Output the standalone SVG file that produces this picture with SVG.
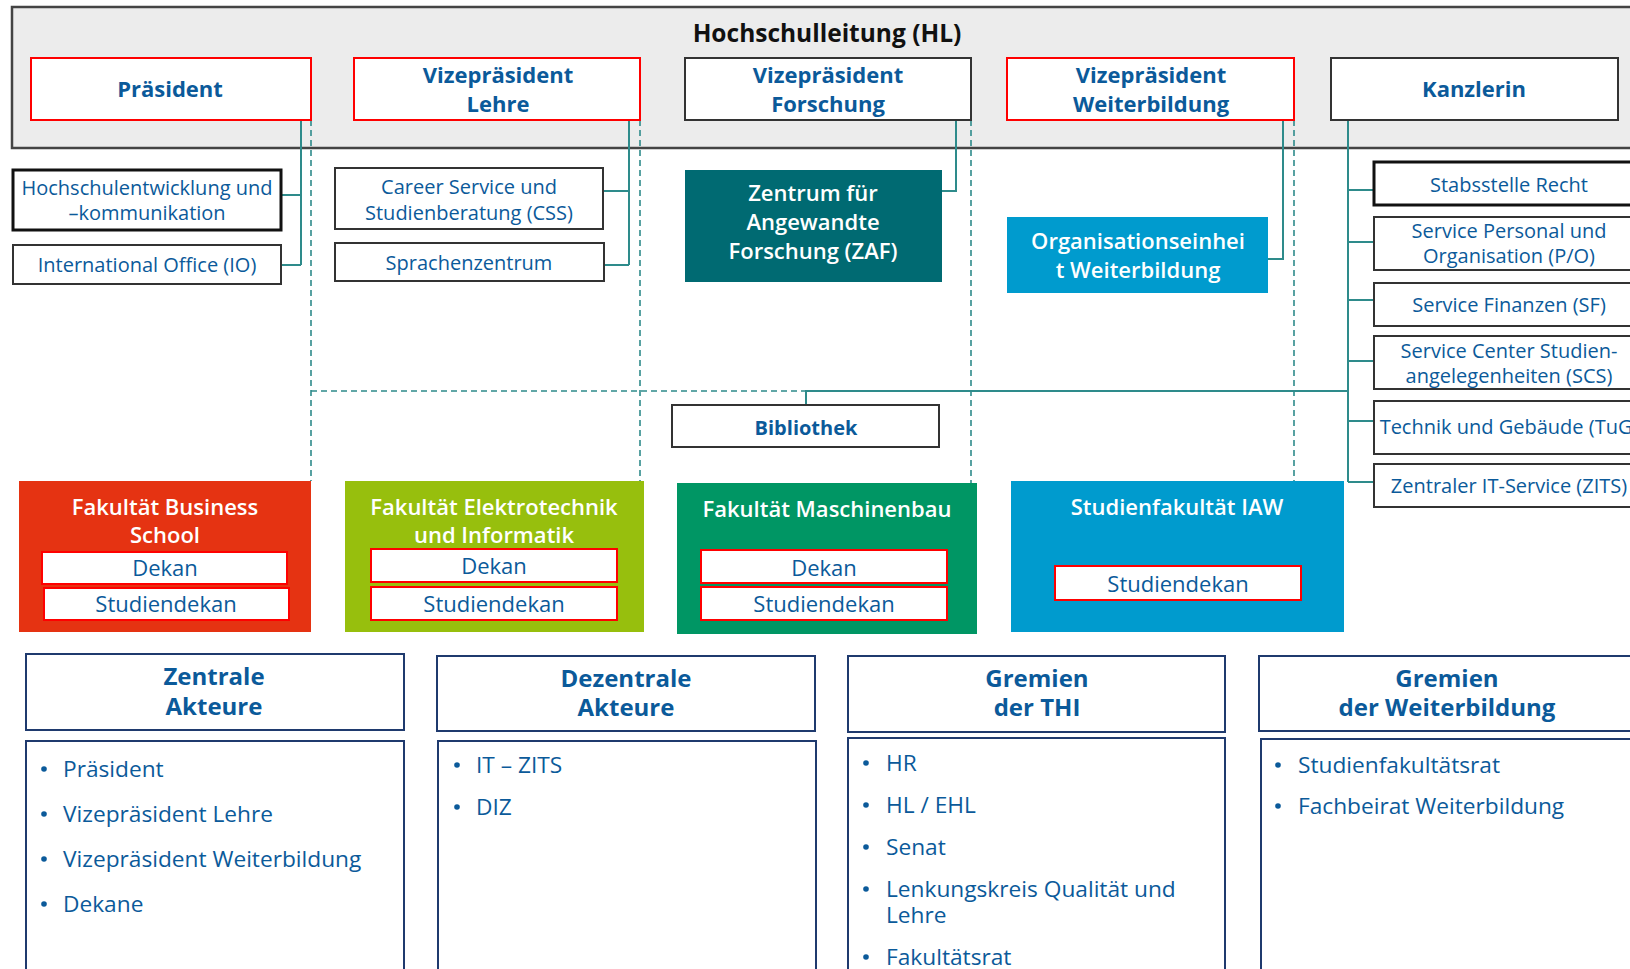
<svg xmlns="http://www.w3.org/2000/svg" width="1630" height="969" viewBox="0 0 1630 969">
<style>
text{font-family:"Open Sans","Noto Sans","DejaVu Sans",sans-serif}
.box{fill:#fff;stroke:#333;stroke-width:2}
.boxk{fill:#fff;stroke:#111;stroke-width:3}
.red{fill:#fff;stroke:#ff0000;stroke-width:2}
.nav{fill:#fff;stroke:#1f3a6e;stroke-width:2}
.hd{font-weight:bold;font-size:22px;fill:#0b5a9a;text-anchor:middle}
.sub{font-size:20px;fill:#0b5a9a;text-anchor:middle}
.bib{font-weight:bold;font-size:20px;fill:#0b5a9a;text-anchor:middle}
.wt{fill:#fff;font-size:22px;text-anchor:middle;font-weight:600}
.dk{font-size:22px;fill:#0b5a9a;text-anchor:middle}
.h2{font-weight:bold;font-size:24px;fill:#0b5a9a;text-anchor:middle}
.li{font-size:22.7px;fill:#0b5a9a}
.dot{fill:#0b5a9a}
.con{stroke:#2e8b8b;stroke-width:2;fill:none}
.dash{stroke:#2e8b8b;stroke-width:1.6;fill:none;stroke-dasharray:6 4}
</style>

<!-- Hochschulleitung band -->
<g id="hl">
  <rect x="12" y="7" width="1630" height="141" fill="#ececec" stroke="#444" stroke-width="2.5"/>
  <text x="827" y="42" font-size="24.5" font-weight="bold" fill="#111" text-anchor="middle">Hochschulleitung (HL)</text>
</g>

<!-- connectors -->
<g id="connectors">
  <!-- Präsident -->
  <path class="con" d="M301 120 V265 M281 195 H301 M281 265 H301"/>
  <!-- VP Lehre -->
  <path class="con" d="M629 120 V265 M603 191 H629 M604 265 H629"/>
  <!-- VP Forschung -->
  <path class="con" d="M956 120 V191 H942"/>
  <!-- VP Weiterbildung -->
  <path class="con" d="M1283 120 V259 H1268"/>
  <!-- Kanzlerin -->
  <path class="con" d="M1348 120 V482 M1348 190 H1374 M1348 242 H1374 M1348 300 H1374 M1348 361 H1374 M1348 421 H1374 M1348 482 H1374"/>
  <path class="con" d="M1348 391 H806 V405"/>
  <!-- dotted links to faculties -->
  <path class="dash" d="M311 120 V481 M640 120 V481 M971 120 V483 M1294 120 V481 M311 391 H806"/>
</g>

<!-- top level -->
<g id="praesident">
  <rect class="red" x="31" y="58" width="280" height="62"/>
  <text class="hd" x="170" y="97">Präsident</text>
</g>
<g id="vp-lehre">
  <rect class="red" x="354" y="58" width="286" height="62"/>
  <text class="hd" x="498" y="83">Vizepräsident</text>
  <text class="hd" x="498" y="112">Lehre</text>
</g>
<g id="vp-forschung">
  <rect class="box" x="685" y="58" width="286" height="62"/>
  <text class="hd" x="828" y="83">Vizepräsident</text>
  <text class="hd" x="828" y="112">Forschung</text>
</g>
<g id="vp-weiterbildung">
  <rect class="red" x="1007" y="58" width="287" height="62"/>
  <text class="hd" x="1151" y="83">Vizepräsident</text>
  <text class="hd" x="1151" y="112">Weiterbildung</text>
</g>
<g id="kanzlerin">
  <rect class="box" x="1331" y="58" width="287" height="62"/>
  <text class="hd" x="1474" y="97">Kanzlerin</text>
</g>

<!-- staff units -->
<g id="hsk">
  <rect class="boxk" x="13" y="170" width="268" height="60"/>
  <text class="sub" x="147" y="195">Hochschulentwicklung und</text>
  <text class="sub" x="147" y="220">–kommunikation</text>
</g>
<g id="io">
  <rect class="box" x="13" y="245" width="268" height="39"/>
  <text class="sub" x="147" y="272">International Office (IO)</text>
</g>
<g id="css">
  <rect class="box" x="335" y="168" width="268" height="61"/>
  <text class="sub" x="469" y="194">Career Service und</text>
  <text class="sub" x="469" y="220">Studienberatung (CSS)</text>
</g>
<g id="sprachenzentrum">
  <rect class="box" x="335" y="243" width="269" height="38"/>
  <text class="sub" x="469" y="270">Sprachenzentrum</text>
</g>
<g id="zaf">
  <rect x="685" y="170" width="257" height="112" fill="#006a72"/>
  <text class="wt" x="813" y="201">Zentrum für</text>
  <text class="wt" x="813" y="230">Angewandte</text>
  <text class="wt" x="813" y="259">Forschung (ZAF)</text>
</g>
<g id="oe-weiterbildung">
  <rect x="1007" y="217" width="261" height="76" fill="#009bce"/>
  <text class="wt" x="1138" y="249">Organisationseinhei</text>
  <text class="wt" x="1138" y="278">t Weiterbildung</text>
</g>

<!-- administration units -->
<g id="recht">
  <rect class="boxk" x="1374" y="162" width="272" height="43"/>
  <text class="sub" x="1509" y="192">Stabsstelle Recht</text>
</g>
<g id="po">
  <rect class="box" x="1374" y="217" width="272" height="53"/>
  <text class="sub" x="1509" y="238">Service Personal und</text>
  <text class="sub" x="1509" y="263">Organisation (P/O)</text>
</g>
<g id="sf">
  <rect class="box" x="1374" y="283" width="272" height="43"/>
  <text class="sub" x="1509" y="312">Service Finanzen (SF)</text>
</g>
<g id="scs">
  <rect class="box" x="1374" y="336" width="272" height="53"/>
  <text class="sub" x="1509" y="358">Service Center Studien-</text>
  <text class="sub" x="1509" y="383">angelegenheiten (SCS)</text>
</g>
<g id="tug">
  <rect class="box" x="1374" y="401" width="272" height="53"/>
  <text class="sub" x="1509" y="434">Technik und Gebäude (TuG)</text>
</g>
<g id="zits">
  <rect class="box" x="1374" y="464" width="272" height="43"/>
  <text class="sub" x="1509" y="493">Zentraler IT-Service (ZITS)</text>
</g>
<g id="bibliothek">
  <rect class="box" x="672" y="405" width="267" height="42"/>
  <text class="bib" x="806" y="435">Bibliothek</text>
</g>

<!-- faculties -->
<g id="fak-bs">
  <rect x="19" y="481" width="292" height="151" fill="#e53312"/>
  <text class="wt" x="165" y="515">Fakultät Business</text>
  <text class="wt" x="165" y="543">School</text>
  <rect class="red" x="42" y="552" width="245" height="32"/>
  <text class="dk" x="165" y="576">Dekan</text>
  <rect class="red" x="44" y="588" width="245" height="32"/>
  <text class="dk" x="166" y="612">Studiendekan</text>
</g>
<g id="fak-ei">
  <rect x="345" y="481" width="299" height="151" fill="#97bf0d"/>
  <text class="wt" x="494" y="515">Fakultät Elektrotechnik</text>
  <text class="wt" x="494" y="543">und Informatik</text>
  <rect class="red" x="371" y="549" width="246" height="33"/>
  <text class="dk" x="494" y="574">Dekan</text>
  <rect class="red" x="371" y="587" width="246" height="33"/>
  <text class="dk" x="494" y="612">Studiendekan</text>
</g>
<g id="fak-mb">
  <rect x="677" y="483" width="300" height="151" fill="#009664"/>
  <text class="wt" x="827" y="517">Fakultät Maschinenbau</text>
  <rect class="red" x="701" y="550" width="246" height="33"/>
  <text class="dk" x="824" y="576">Dekan</text>
  <rect class="red" x="701" y="587" width="246" height="33"/>
  <text class="dk" x="824" y="612">Studiendekan</text>
</g>
<g id="fak-iaw">
  <rect x="1011" y="481" width="333" height="151" fill="#009bce"/>
  <text class="wt" x="1177" y="515">Studienfakultät IAW</text>
  <rect class="red" x="1055" y="566" width="246" height="34"/>
  <text class="dk" x="1178" y="592">Studiendekan</text>
</g>

<!-- actor and committee lists -->
<g id="zentrale">
  <rect class="nav" x="26" y="654" width="378" height="76"/>
  <text class="h2" x="214" y="685">Zentrale</text>
  <text class="h2" x="214" y="715">Akteure</text>
  <rect class="nav" x="26" y="741" width="378" height="240"/>
  <circle class="dot" cx="44" cy="769" r="2.8"/>
  <text class="li" x="63" y="777">Präsident</text>
  <circle class="dot" cx="44" cy="814" r="2.8"/>
  <text class="li" x="63" y="822">Vizepräsident Lehre</text>
  <circle class="dot" cx="44" cy="859" r="2.8"/>
  <text class="li" x="63" y="867">Vizepräsident Weiterbildung</text>
  <circle class="dot" cx="44" cy="904" r="2.8"/>
  <text class="li" x="63" y="912">Dekane</text>
</g>
<g id="dezentrale">
  <rect class="nav" x="437" y="656" width="378" height="75"/>
  <text class="h2" x="626" y="687">Dezentrale</text>
  <text class="h2" x="626" y="716">Akteure</text>
  <rect class="nav" x="438" y="741" width="378" height="240"/>
  <circle class="dot" cx="457" cy="765" r="2.8"/>
  <text class="li" x="476" y="773">IT – ZITS</text>
  <circle class="dot" cx="457" cy="807" r="2.8"/>
  <text class="li" x="476" y="815">DIZ</text>
</g>
<g id="gremien-thi">
  <rect class="nav" x="848" y="656" width="377" height="76"/>
  <text class="h2" x="1037" y="687">Gremien</text>
  <text class="h2" x="1037" y="716">der THI</text>
  <rect class="nav" x="848" y="738" width="377" height="243"/>
  <circle class="dot" cx="866" cy="763" r="2.8"/>
  <text class="li" x="886" y="771">HR</text>
  <circle class="dot" cx="866" cy="805" r="2.8"/>
  <text class="li" x="886" y="813">HL / EHL</text>
  <circle class="dot" cx="866" cy="847" r="2.8"/>
  <text class="li" x="886" y="855">Senat</text>
  <circle class="dot" cx="866" cy="889" r="2.8"/>
  <text class="li" x="886" y="897">Lenkungskreis Qualität und</text>
  <text class="li" x="886" y="923">Lehre</text>
  <circle class="dot" cx="866" cy="957" r="2.8"/>
  <text class="li" x="886" y="965">Fakultätsrat</text>
</g>
<g id="gremien-wb">
  <rect class="nav" x="1259" y="656" width="390" height="75"/>
  <text class="h2" x="1447" y="687">Gremien</text>
  <text class="h2" x="1447" y="716">der Weiterbildung</text>
  <rect class="nav" x="1261" y="739" width="390" height="242"/>
  <circle class="dot" cx="1278" cy="765" r="2.8"/>
  <text class="li" x="1298" y="773">Studienfakultätsrat</text>
  <circle class="dot" cx="1278" cy="806" r="2.8"/>
  <text class="li" x="1298" y="814">Fachbeirat Weiterbildung</text>
</g>
</svg>
